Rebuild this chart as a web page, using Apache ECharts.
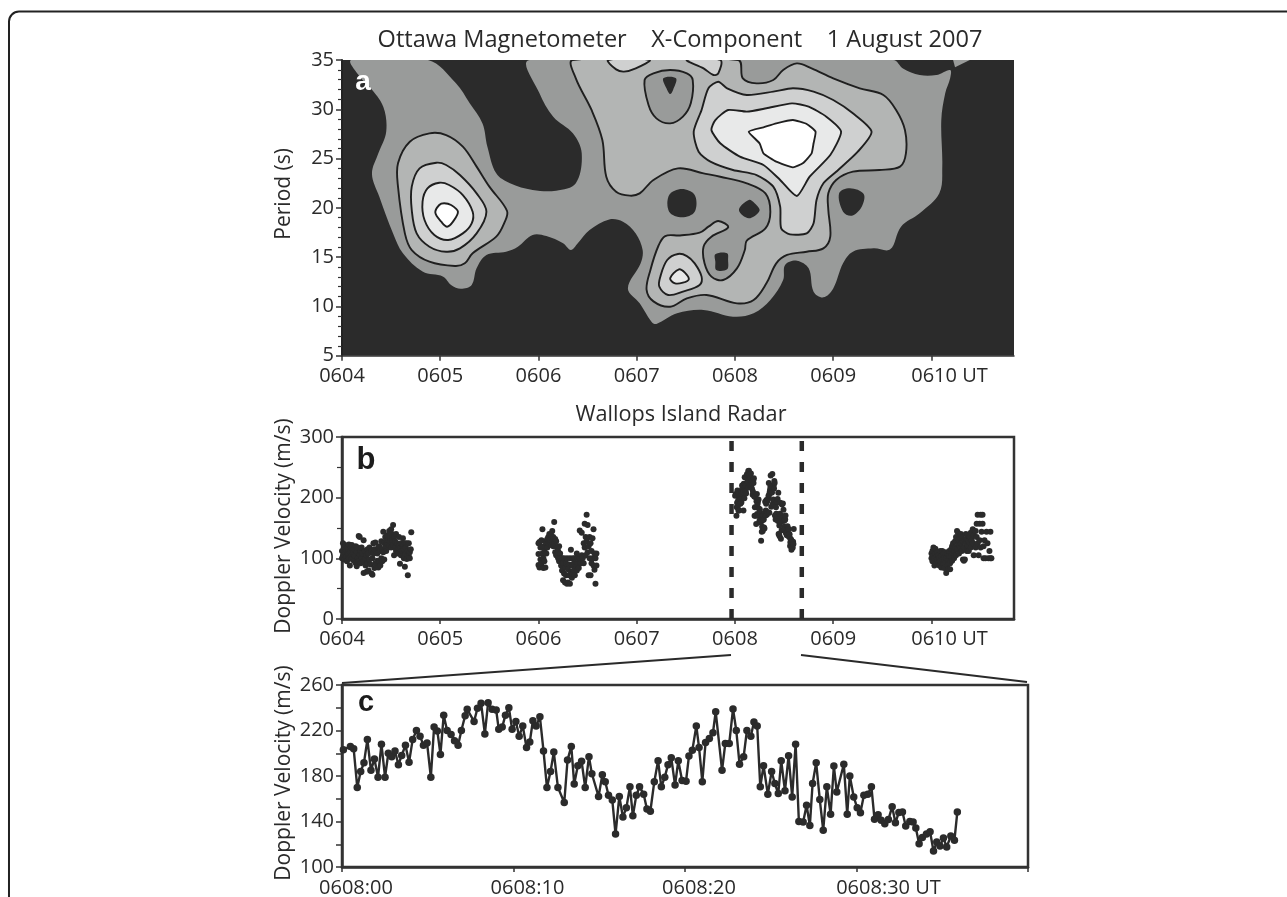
<!DOCTYPE html>
<html><head><meta charset="utf-8">
<style>html,body{margin:0;padding:0;background:#fff}#c{width:1287px;height:897px}</style>
<script src="https://cdn.jsdelivr.net/npm/echarts@6/dist/echarts.min.js"></script>
</head><body><div id="c"></div>
<script>
// ---------- panel a: contour regions, [minutes after 0604, period s]
const level1Main=[[.095,35],[.18,33.31],[.28,32.29],[.42,30.26],[.45,27.73],[.37,25.53],[.305,23.43],[.38,21.13],[.52,17.41],[.62,15.39],[.82,13.53],[1.03,13.02],[1.11,12.18],[1.21,11.8],[1.32,12.18],[1.37,13.86],[1.47,15.22],[1.67,15.55],[1.79,16.06],[1.94,17.25],[2.08,17.14],[2.25,16.4],[2.33,15.72],[2.40,16.4],[2.52,17.75],[2.72,18.83],[2.86,18.6],[2.99,17.41],[3.06,15.72],[3.04,14.37],[2.91,11.83],[3.03,10.31],[3.15,8.45],[3.20,8.22],[3.41,9.3],[3.68,9.64],[3.98,8.96],[4.19,9.3],[4.36,10.65],[4.49,12.68],[4.51,14.2],[4.63,14.64],[4.75,13.86],[4.80,11.5],[4.90,10.92],[5.0,11.83],[5.10,14.37],[5.20,15.55],[5.41,15.89],[5.58,15.79],[5.69,18.09],[5.88,19.44],[6.08,21.47],[6.11,24.18],[6.10,28.91],[6.14,31.62],[6.19,33.14],[6.19,33.99],[6.05,33.48],[5.88,33.48],[5.71,34.15],[5.61,35],[1.91,35],[2.01,31.62],[2.15,29.25],[2.35,27.56],[2.44,25.53],[2.38,22.49],[2.18,21.74],[1.94,21.81],[1.71,22.49],[1.57,23.5],[1.48,26.21],[1.43,28.57],[1.30,30.6],[1.16,32.63],[.875,35]];
const level1TopRight=[[6.22,35],[6.39,35],[6.24,34.26]];
const level2Left=[[.89,27.56],[.69,26.71],[.57,24.52],[.57,22.15],[.64,17.41],[.71,15.72],[.89,14.54],[1.15,14.1],[1.25,14.37],[1.33,15.39],[1.57,17.08],[1.65,18.43],[1.68,19.68],[1.50,22.15],[1.37,24.18],[1.23,26.21],[1.06,27.39]];
const level3Left=[[.96,24.58],[.79,24.01],[.71,22.15],[.71,19.78],[.76,17.41],[.89,16.06],[1.06,15.55],[1.20,15.89],[1.37,17.41],[1.47,19.61],[1.37,21.47],[1.20,23.33],[1.06,24.35]];
const level4Left=[[.99,22.55],[.87,21.98],[.82,20.63],[.84,18.77],[.94,17.25],[1.08,16.74],[1.23,17.41],[1.32,18.43],[1.33,19.61],[1.23,21.3],[1.09,22.32]];
const level5Left=[[1.04,20.46],[.99,20.29],[.95,19.51],[1.01,18.6],[1.07,18.09],[1.13,18.6],[1.18,19.61],[1.11,20.29]];
const level2Main=[[2.35,35],[2.38,33.14],[2.54,29.93],[2.65,26.88],[2.69,23.16],[2.79,21.64],[2.93,21.24],[3.03,21.47],[3.17,22.83],[3.42,24.01],[3.68,23.5],[3.85,23.16],[4.12,22.49],[4.31,21.47],[4.36,19.61],[4.31,17.92],[4.12,16.67],[4.10,15.72],[4.02,13.86],[3.88,12.68],[3.76,13.02],[3.69,14.37],[3.68,16.06],[3.76,17.08],[3.93,18.02],[3.83,18.67],[3.73,18.09],[3.64,17.48],[3.44,17.2],[3.29,17.14],[3.22,16.13],[3.14,13.73],[3.10,11.7],[3.17,10.51],[3.34,9.97],[3.51,10.82],[3.71,11.16],[4.02,10.31],[4.19,10.65],[4.32,12.34],[4.42,14.37],[4.53,15.22],[4.73,15.55],[4.90,15.89],[4.97,17.08],[4.95,19.78],[4.95,21.47],[5.03,22.83],[5.20,23.67],[5.47,23.84],[5.68,24.18],[5.74,25.53],[5.73,27.9],[5.64,29.93],[5.51,31.45],[5.27,32.13],[5.0,33.14],[4.78,34.15],[4.63,34.66],[4.49,33.99],[4.39,32.97],[4.22,32.63],[4.08,33.14],[4.03,35]];
const level3TopA=[[2.71,35],[2.79,34.05],[2.87,33.82],[2.99,34.15],[3.13,35]];
const level3TopB=[[3.51,35],[3.68,34.15],[3.78,33.48],[3.83,33.65],[3.85,35]];
const level1Pocket=[[3.08,32.97],[3.17,33.65],[3.34,33.99],[3.51,33.65],[3.57,32.97],[3.55,30.6],[3.47,29.25],[3.34,28.57],[3.20,29.08],[3.12,30.43]];
const darkPocket=[[3.27,33.14],[3.40,33.14],[3.37,31.96],[3.34,31.55],[3.31,31.96]];
const level3Main=[[3.83,32.8],[3.73,32.13],[3.66,29.93],[3.58,27.73],[3.63,25.7],[3.75,24.69],[3.98,23.84],[4.22,23.33],[4.39,22.15],[4.46,20.12],[4.47,17.92],[4.56,17.31],[4.73,17.41],[4.80,18.43],[4.83,20.8],[4.90,22.49],[5.03,23.67],[5.25,25.7],[5.39,27.73],[5.20,29.59],[5.0,30.94],[4.80,31.79],[4.59,32.13],[4.39,31.79],[4.12,31.45],[3.92,32.13]];
const level4Main=[[3.93,29.93],[3.80,28.91],[3.76,27.9],[3.85,26.55],[4.05,25.19],[4.29,24.35],[4.46,22.83],[4.63,21.2],[4.76,23.16],[4.97,25.36],[5.08,27.73],[4.93,29.25],[4.75,30.27],[4.58,30.6],[4.32,30.1],[4.12,29.76]];
const level5Main=[[4.14,27.73],[4.25,26.55],[4.29,25.53],[4.42,24.69],[4.59,24.11],[4.69,24.52],[4.78,25.53],[4.80,26.55],[4.82,27.73],[4.73,28.51],[4.59,28.91],[4.42,28.57],[4.29,28.17]];
const level3Small=[[3.42,15.32],[3.31,14.71],[3.24,13.02],[3.23,12.0],[3.32,11.16],[3.47,11.5],[3.64,12.17],[3.66,13.02],[3.59,14.37],[3.51,15.11]];
const level4Small=[[3.43,13.76],[3.34,12.85],[3.39,12.34],[3.47,12.41],[3.53,12.75],[3.49,13.42]];
const darkHole1=[[3.33,21.3],[3.46,21.91],[3.59,21.3],[3.59,19.61],[3.46,19.04],[3.33,19.61]];
const darkHole2=[[4.14,20.8],[4.04,19.78],[4.14,18.94],[4.25,19.71],[4.20,20.46]];
const darkHole3=[[3.80,15.28],[3.92,15.39],[3.93,14.71],[3.92,13.76],[3.81,13.69],[3.80,14.54]];
const darkHole4=[[5.06,21.47],[5.17,21.98],[5.31,21.4],[5.29,20.12],[5.19,19.21],[5.10,19.61]];

// ---------- panel b: Doppler velocity scatter, [minutes after 0604, m/s]
const burst0604=[[0,100],[0,112],[.01,105],[.01,125],[.02,98],[.02,118],[.03,108],[.03,122],[.04,102],[.04,113],[.05,95],[.05,118],[.06,107],[.07,100],[.07,123],[.08,88],[.08,110],[.09,103],[.09,118],[.10,99],[.10,122],[.11,108],[.12,115],[.12,96],[.13,104],[.14,92],[.14,120],[.15,110],[.15,87],[.16,100],[.16,118],[.17,137],[.17,95],[.18,105],[.18,135],[.19,92],[.19,112],[.20,118],[.20,100],[.21,108],[.22,130],[.22,76],[.22,95],[.23,112],[.24,88],[.24,100],[.25,105],[.25,78],[.26,115],[.26,92],[.27,80],[.27,108],[.28,98],[.28,118],[.29,90],[.30,112],[.30,75],[.31,73],[.31,100],[.32,108],[.32,125],[.33,84],[.33,115],[.34,126],[.34,92],[.35,89],[.35,112],[.36,108],[.36,96],[.37,85],[.37,118],[.38,95],[.38,120],[.39,88],[.39,112],[.40,128],[.40,100],[.41,115],[.41,95],[.42,144],[.42,110],[.43,125],[.43,98],[.44,135],[.44,118],[.45,112],[.45,128],[.46,125],[.46,138],[.47,130],[.47,118],[.48,145],[.48,122],[.49,135],[.49,128],[.50,148],[.50,118],[.51,130],[.51,140],[.52,155],[.52,122],[.53,135],[.53,105],[.54,128],[.54,118],[.55,140],[.55,112],[.56,125],[.57,118],[.57,108],[.58,135],[.58,122],[.59,91],[.59,118],[.60,125],[.60,105],[.61,112],[.62,133],[.62,122],[.63,100],[.63,115],[.64,86],[.64,125],[.65,108],[.65,118],[.66,99],[.66,125],[.67,72],[.67,112],[.68,103],[.68,125],[.69,110],[.69,100],[.70,115],[.705,143]];
const burst0606=[[2.0,125],[2.0,107],[2.0,89],[2.01,85],[2.01,127],[2.02,118],[2.02,98],[2.03,92],[2.03,130],[2.04,148],[2.04,108],[2.05,84],[2.05,120],[2.05,100],[2.06,112],[2.06,95],[2.07,128],[2.07,85],[2.08,125],[2.08,108],[2.09,132],[2.09,118],[2.10,135],[2.10,125],[2.11,140],[2.11,128],[2.12,130],[2.13,122],[2.13,138],[2.14,145],[2.14,128],[2.15,135],[2.15,120],[2.16,160],[2.16,125],[2.17,132],[2.17,110],[2.18,128],[2.18,105],[2.19,118],[2.20,112],[2.20,100],[2.21,120],[2.21,95],[2.22,108],[2.22,100],[2.23,88],[2.23,100],[2.24,80],[2.24,100],[2.25,64],[2.25,92],[2.26,75],[2.26,100],[2.27,85],[2.27,60],[2.28,92],[2.28,72],[2.29,100],[2.29,58],[2.30,82],[2.30,60],[2.31,90],[2.31,72],[2.32,100],[2.32,58],[2.33,114],[2.33,78],[2.34,88],[2.34,68],[2.35,100],[2.35,74],[2.36,92],[2.36,80],[2.37,100],[2.37,72],[2.38,88],[2.39,108],[2.39,80],[2.40,92],[2.40,100],[2.41,84],[2.42,146],[2.42,100],[2.43,92],[2.44,142],[2.44,105],[2.45,100],[2.46,125],[2.46,92],[2.47,157],[2.47,118],[2.48,105],[2.48,135],[2.49,172],[2.49,128],[2.50,110],[2.50,155],[2.51,72],[2.51,120],[2.52,135],[2.52,100],[2.53,72],[2.53,125],[2.54,92],[2.54,112],[2.55,133],[2.55,100],[2.56,148],[2.56,88],[2.57,81],[2.57,108],[2.58,58],[2.58,100],[2.59,108],[2.59,88]];
const burst0610=[[6.0,100],[6.0,108],[6.01,95],[6.01,112],[6.02,104],[6.02,118],[6.03,88],[6.03,100],[6.04,108],[6.04,116],[6.05,92],[6.05,102],[6.06,98],[6.06,110],[6.07,92],[6.07,105],[6.08,88],[6.08,100],[6.09,112],[6.09,95],[6.10,104],[6.10,85],[6.11,98],[6.11,112],[6.12,90],[6.12,108],[6.13,100],[6.13,84],[6.14,92],[6.14,110],[6.15,76],[6.15,100],[6.16,88],[6.16,108],[6.17,82],[6.17,98],[6.18,104],[6.18,112],[6.19,92],[6.19,82],[6.20,102],[6.20,115],[6.21,96],[6.21,120],[6.22,108],[6.22,125],[6.23,112],[6.23,100],[6.24,118],[6.24,128],[6.25,105],[6.25,135],[6.26,115],[6.26,145],[6.27,125],[6.27,142],[6.28,108],[6.28,130],[6.29,135],[6.29,118],[6.30,125],[6.30,140],[6.31,112],[6.31,135],[6.32,98],[6.32,128],[6.33,118],[6.33,96],[6.34,130],[6.34,98],[6.35,125],[6.35,140],[6.36,112],[6.36,132],[6.37,138],[6.37,120],[6.38,128],[6.38,112],[6.39,135],[6.39,125],[6.40,142],[6.40,118],[6.41,130],[6.42,148],[6.42,125],[6.43,138],[6.43,105],[6.45,145],[6.45,118],[6.46,157],[6.46,135],[6.47,172],[6.47,125],[6.48,105],[6.49,157],[6.49,130],[6.50,172],[6.50,118],[6.51,144],[6.52,172],[6.52,157],[6.53,120],[6.53,100],[6.54,130],[6.55,100],[6.56,144],[6.57,125],[6.58,100],[6.59,112],[6.60,144],[6.60,100],[6.61,100]];
const dashTimes=[3.965,4.68];

// ---------- panel c: zoomed series, [seconds after 0608:00, m/s]
const zoomSeries=[[.08,203],[.49,206],[.68,204],[.89,170],[1.09,184],[1.28,191.6],[1.48,212],[1.69,185],[1.89,195],[2.10,179],[2.30,208],[2.51,179],[2.70,200],[2.90,197],[3.09,202],[3.29,190],[3.48,198],[3.70,207],[3.91,192],[4.12,212],[4.34,220],[4.55,215],[4.75,207],[4.96,209],[5.18,179],[5.37,223],[5.56,219.5],[5.74,199],[5.93,233.5],[6.13,220],[6.36,216.5],[6.56,211],[6.77,207],[6.96,220],[7.18,233],[7.30,238.6],[7.70,228],[7.90,239.5],[8.11,244],[8.33,217],[8.52,244.4],[8.75,238.6],[8.99,238],[9.14,221],[9.34,223],[9.53,233.5],[9.73,240],[9.92,221],[10.14,228],[10.33,215],[10.54,224],[10.76,205],[10.95,210],[11.13,228.6],[11.32,224],[11.54,232],[11.75,202],[11.95,170],[12.16,184],[12.35,201],[12.59,170],[12.96,156.7],[13.15,194],[13.37,206],[13.54,173],[13.75,189],[13.97,193],[14.18,170],[14.40,197],[14.57,182],[14.96,162],[15.18,181],[15.35,175],[15.54,163],[15.76,159],[15.95,129],[16.17,162],[16.38,144],[16.58,152],[16.79,170.5],[16.96,145],[17.16,163],[17.35,170.5],[17.59,164],[17.78,151],[17.98,149],[18.21,175],[18.43,193.4],[18.62,170.5],[18.82,179],[19.01,190],[19.2,196],[19.42,172],[19.61,193.4],[19.83,176],[20.06,175.4],[20.23,197.5],[20.43,202.7],[20.66,224],[20.82,205],[21.01,175],[21.2,209.5],[21.42,213],[21.63,218],[21.79,236.5],[22.16,185],[22.35,208.6],[22.58,208.6],[22.8,239],[22.99,220],[23.18,190.4],[23.42,197],[23.61,220],[23.84,215],[24.02,227.4],[24.21,224],[24.39,170.5],[24.58,189],[24.83,164],[25.05,184],[25.24,173.4],[25.44,164.6],[25.61,193.4],[25.83,167],[26.04,197.8],[26.25,161.6],[26.45,208],[26.64,140],[26.89,139.6],[27.09,154.3],[27.28,136.4],[27.44,173.4],[27.65,191.6],[27.86,159.3],[28.06,132.3],[28.27,170.5],[28.49,146.4],[28.68,188.7],[28.85,166],[29.26,190.4],[29.46,146.4],[29.61,180],[29.84,161.6],[30.04,152],[30.23,147.8],[30.43,163],[30.66,164],[30.87,170.5],[31.05,142],[31.26,146],[31.44,141],[31.65,138],[31.86,141.7],[32.08,153],[32.27,139],[32.47,148],[32.68,148.4],[32.87,136],[33.11,140],[33.3,139.6],[33.46,134.3],[33.65,120.5],[33.84,126],[34.08,129],[34.29,131],[34.49,114],[34.68,122],[34.87,118.5],[35.07,125.5],[35.26,117.6],[35.5,127.3],[35.71,123.5],[35.88,148.4]];

const hourLabels=['0604','0605','0606','0607','0608','0609','0610 UT'];
const zoomLabels=['0608:00','0608:10','0608:20','0608:30 UT'];
const hourTicks=[0,1,2,3,4,5,6];

const DARK='#2b2b2b', INK='#2a2a2a', FONT='"Open Sans"', FS=20;
const G1='#999b9a',G2='#b3b5b4',G3='#cfd0d0',G4='#e8e9e9',G5='#ffffff';
const contours=[
 {p:level1Main,f:G1},{p:level1TopRight,f:G1,s:0},
 {p:level2Left,f:G2,l:1},{p:level3Left,f:G3,l:1},{p:level4Left,f:G4,l:1},{p:level5Left,f:G5,l:1},
 {p:level2Main,f:G2,l:1},{p:level3TopA,f:G3,l:1},{p:level3TopB,f:G3,l:1},
 {p:level1Pocket,f:G1,l:1},{p:darkPocket,f:DARK},
 {p:level3Main,f:G3,l:1,s:.25},{p:level4Main,f:G4,l:1,s:.2},{p:level5Main,f:G5,l:1,s:.15},
 {p:level3Small,f:G3,l:1},{p:level4Small,f:G4,l:1},
 {p:darkHole1,f:DARK},{p:darkHole2,f:DARK},{p:darkHole3,f:DARK},{p:darkHole4,f:DARK}
];

const axisLabel=(extra)=>Object.assign({color:INK,fontFamily:FONT,fontSize:FS,margin:8},extra);
const tickFmt=(labels,step,pad,margin,custom)=>Object.assign({
  interval:0,margin,color:INK,fontFamily:FONT,fontSize:FS,
  formatter:v=>{const i=Math.round(v/step);if(Math.abs(v/step-i)>1e-6||i>=labels.length)return '';
    const s=labels[i];return s.endsWith('UT')?`{u|${s}}`:`{n|${s}}`;},
  rich:{n:{color:INK,fontFamily:FONT,fontSize:FS,padding:[0,0,0,pad]},u:{color:INK,fontFamily:FONT,fontSize:FS,padding:[0,0,0,pad+36]}}
},custom?{customValues:custom}:{});
const yName=(name,gap,up)=>({name,nameLocation:'middle',nameGap:gap,nameRotate:90,nameMoveOverlap:false,nameTextStyle:{color:INK,fontFamily:FONT,fontSize:21,padding:[0,0,0,up]}});
const textTitle=(text,left,top,size,color,font,weight)=>({text,left,top,padding:0,textAlign:'center',textVerticalAlign:'middle',textStyle:{color,fontFamily:font,fontSize:size,fontWeight:weight}});

const chart=echarts.init(document.getElementById('c'),null,{renderer:'canvas'});
chart.setOption({
 animation:false,backgroundColor:'#fff',
 title:[
  textTitle('Ottawa Magnetometer    X-Component    1 August 2007',680,40,23.55,INK,FONT,'normal'),
  textTitle('Wallops Island Radar',681,415,21.7,INK,FONT,'normal'),
  textTitle('a',363,82.5,28,'#fff','Liberation Sans','bold'),
  textTitle('b',366,460,31,'#1c1c1c','Liberation Sans','bold'),
  textTitle('c',366,703,29,'#1c1c1c','Liberation Sans','bold')
 ],
 grid:[
  {left:342,top:60,width:672,height:295.7,show:true,backgroundColor:DARK,borderWidth:0,outerBoundsMode:'none'},
  {left:342,top:437,width:672,height:182,show:true,borderColor:'#333',borderWidth:2.5,outerBoundsMode:'none'},
  {left:342,top:685,width:686,height:182,show:true,borderColor:'#333',borderWidth:2.5,outerBoundsMode:'none'}
 ],
 xAxis:[
  {gridIndex:0,type:'value',min:0,max:6.84,interval:1,splitLine:{show:false},axisLine:{lineStyle:{color:'#333',width:1.5}},axisTick:{customValues:hourTicks,length:5,lineStyle:{color:'#333',width:1.5}},axisLabel:tickFmt(hourLabels,1,0,11,hourTicks)},
  {gridIndex:1,type:'value',min:0,max:6.84,interval:1,splitLine:{show:false},axisLine:{lineStyle:{color:'#333',width:2.5}},axisTick:{customValues:hourTicks,length:5,lineStyle:{color:'#333',width:1.5}},axisLabel:tickFmt(hourLabels,1,0,10,hourTicks)},
  {gridIndex:2,type:'value',min:0,max:40,interval:10,splitLine:{show:false},axisLine:{lineStyle:{color:'#333',width:2.5}},axisTick:{length:5,lineStyle:{color:'#333',width:1.5}},axisLabel:tickFmt(zoomLabels,10,28,11)}
 ],
 yAxis:[
  Object.assign({gridIndex:0,type:'value',min:5,max:35,interval:5,splitLine:{show:false},axisLine:{lineStyle:{color:'#222',width:2}},axisTick:{length:6,lineStyle:{color:'#333',width:1.5}},minorTick:{show:true,splitNumber:5,length:4,lineStyle:{color:'#333',width:1.2}},axisLabel:axisLabel({})},yName('Period (s)',47,28)),
  Object.assign({gridIndex:1,type:'value',min:0,max:300,interval:100,splitLine:{show:false},axisLine:{lineStyle:{color:'#333',width:2.5}},axisTick:{length:6,lineStyle:{color:'#333',width:1.5}},minorTick:{show:true,splitNumber:2,length:5,lineStyle:{color:'#333',width:1.2}},axisLabel:axisLabel({})},yName('Doppler Velocity (m/s)',47,4)),
  Object.assign({gridIndex:2,type:'value',min:100,max:260,interval:20,splitLine:{show:false},axisLine:{lineStyle:{color:'#333',width:2.5}},axisTick:{length:6,lineStyle:{color:'#333',width:1.5}},axisLabel:axisLabel({formatter:v=>(v-100)%40===0?String(v):''})},yName('Doppler Velocity (m/s)',47,6))
 ],
 graphic:[
  {type:'rect',silent:true,z:-1,shape:{x:9,y:11.5,width:1400,height:1000,r:10},style:{fill:'none',stroke:'#222',lineWidth:2}},
  {type:'line',silent:true,shape:{x1:342,y1:683,x2:731,y2:655},style:{stroke:'#2a2a2a',lineWidth:2}},
  {type:'line',silent:true,shape:{x1:801,y1:655,x2:1027,y2:682},style:{stroke:'#2a2a2a',lineWidth:2}}
 ],
 series:[
  {type:'custom',xAxisIndex:0,yAxisIndex:0,coordinateSystem:'cartesian2d',clip:true,silent:true,
   data:contours.map((c,i)=>[i]),encode:{x:0,y:0},
   renderItem:(params,api)=>{const c=contours[params.dataIndex];
     return {type:'polygon',shape:{points:c.p.map(q=>api.coord(q)),smooth:c.s===undefined?0.35:c.s},
       style:{fill:c.f,stroke:c.l?'#1f1f1f':null,lineWidth:c.l?1.9:0}};}},
  ...[burst0604,burst0606,zoomSeries.map(d=>[4+d[0]/60,d[1]]),burst0610].map(d=>({type:'scatter',xAxisIndex:1,yAxisIndex:1,data:d,symbolSize:6,clip:false,itemStyle:{color:DARK,opacity:1},silent:true})),
  ...dashTimes.map(t=>({type:'line',xAxisIndex:1,yAxisIndex:1,data:[[t,0],[t,300]],showSymbol:false,symbol:'none',lineStyle:{color:DARK,width:4.5,type:[10,11]},silent:true})),
  {type:'line',xAxisIndex:2,yAxisIndex:2,data:zoomSeries,symbol:'circle',symbolSize:7.5,showSymbol:true,showAllSymbol:true,lineStyle:{color:DARK,width:2.4},itemStyle:{color:DARK,opacity:1},silent:true}
 ]
});
</script></body></html>
